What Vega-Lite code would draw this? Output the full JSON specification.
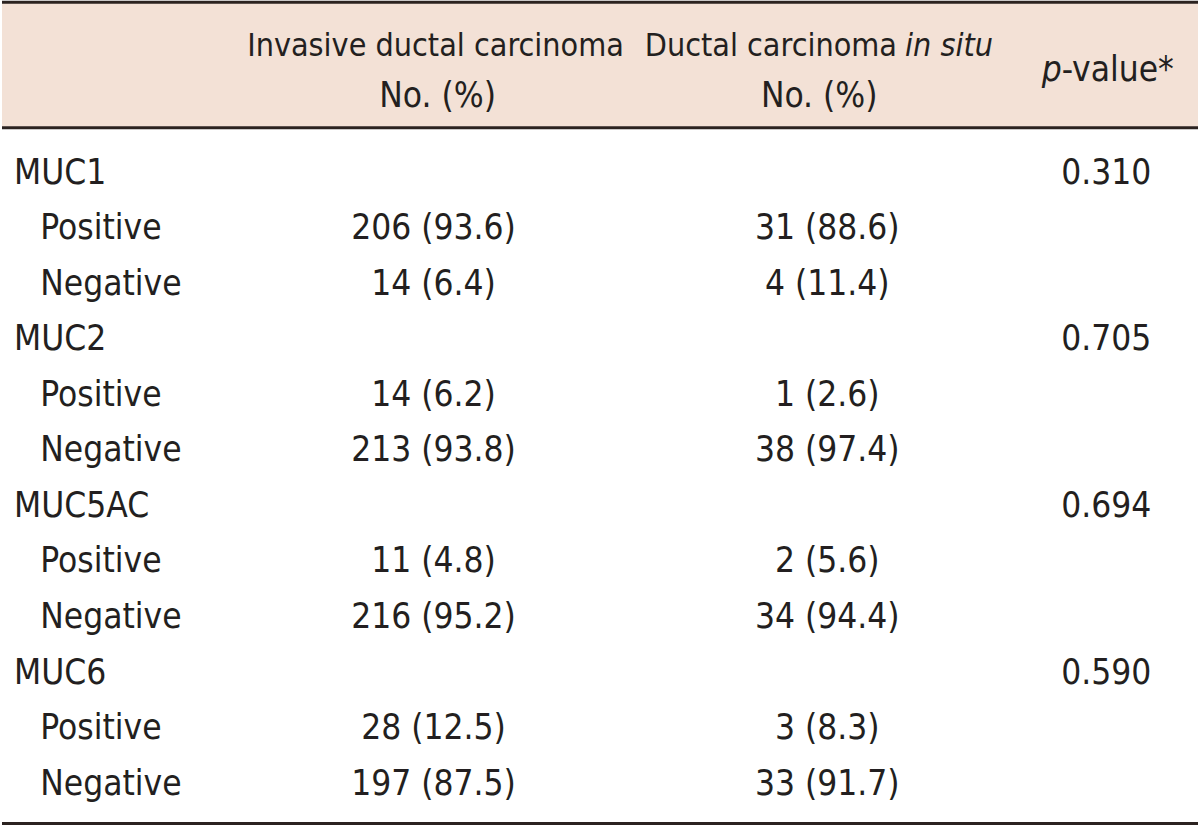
{
  "$schema": "https://vega.github.io/schema/vega-lite/v6.json",
  "width": 1200,
  "height": 825,
  "autosize": {"type": "fit", "contains": "padding"},
  "padding": 0,
  "background": "#ffffff",
  "config": {
    "view": {"stroke": null},
    "text": {"font": "DejaVu Sans Condensed, Roboto, sans-serif", "fontSize": 35, "fill": "#231f20", "baseline": "alphabetic"}
  },
  "data": {
    "values": [
      {"row": 1, "label": "MUC1", "kind": "group", "p": "0.310"},
      {"row": 2, "label": "Positive", "kind": "sub", "idc": "206 (93.6)", "dcis": "31 (88.6)"},
      {"row": 3, "label": "Negative", "kind": "sub", "idc": "14 (6.4)", "dcis": "4 (11.4)"},
      {"row": 4, "label": "MUC2", "kind": "group", "p": "0.705"},
      {"row": 5, "label": "Positive", "kind": "sub", "idc": "14 (6.2)", "dcis": "1 (2.6)"},
      {"row": 6, "label": "Negative", "kind": "sub", "idc": "213 (93.8)", "dcis": "38 (97.4)"},
      {"row": 7, "label": "MUC5AC", "kind": "group", "p": "0.694"},
      {"row": 8, "label": "Positive", "kind": "sub", "idc": "11 (4.8)", "dcis": "2 (5.6)"},
      {"row": 9, "label": "Negative", "kind": "sub", "idc": "216 (95.2)", "dcis": "34 (94.4)"},
      {"row": 10, "label": "MUC6", "kind": "group", "p": "0.590"},
      {"row": 11, "label": "Positive", "kind": "sub", "idc": "28 (12.5)", "dcis": "3 (8.3)"},
      {"row": 12, "label": "Negative", "kind": "sub", "idc": "197 (87.5)", "dcis": "33 (91.7)"}
    ]
  },
  "layer": [
    {
      "data": {"values": [{}]},
      "mark": {"type": "rect", "fill": "#f3e1d6"},
      "encoding": {
        "x": {"datum": 0, "type": "quantitative", "scale": {"domain": [0, 100], "nice": false, "zero": false}, "axis": null},
        "x2": {"datum": 100},
        "y": {"datum": -2.291, "type": "quantitative", "scale": {"domain": [-2.291, 12.547], "reverse": true, "nice": false, "zero": false}, "axis": null},
        "y2": {"datum": -0.025}
      }
    },
    {
      "data": {"values": [{"pos": -2.27}, {"pos": -0.007}, {"pos": 12.52}]},
      "mark": {"type": "rule", "stroke": "#2b2220", "strokeWidth": 3},
      "encoding": {
        "x": {"datum": 0, "type": "quantitative", "scale": {"domain": [0, 100], "nice": false, "zero": false}, "axis": null},
        "x2": {"datum": 100},
        "y": {"field": "pos", "type": "quantitative", "scale": {"domain": [-2.291, 12.547], "reverse": true, "nice": false, "zero": false}, "axis": null}
      }
    },
    {
      "data": {"values": [{"t": "Invasive ductal carcinoma"}]},
      "mark": {"type": "text", "align": "center", "fontSize": 32},
      "encoding": {
        "x": {"datum": 36.25, "type": "quantitative"},
        "y": {"datum": -1.302, "type": "quantitative"},
        "text": {"field": "t"}
      }
    },
    {
      "data": {"values": [{"t": "No. (%)"}]},
      "mark": {"type": "text", "align": "center"},
      "encoding": {
        "x": {"datum": 36.42, "type": "quantitative"},
        "y": {"datum": -0.385, "type": "quantitative"},
        "text": {"field": "t"}
      }
    },
    {
      "data": {"values": [{"t": "Ductal carcinoma"}]},
      "mark": {"type": "text", "align": "right", "dx": -2, "fontSize": 32},
      "encoding": {
        "x": {"datum": 75, "type": "quantitative"},
        "y": {"datum": -1.302, "type": "quantitative"},
        "text": {"field": "t"}
      }
    },
    {
      "data": {"values": [{"t": "in situ"}]},
      "mark": {"type": "text", "align": "left", "dx": 6, "fontStyle": "italic", "fontSize": 32},
      "encoding": {
        "x": {"datum": 75, "type": "quantitative"},
        "y": {"datum": -1.302, "type": "quantitative"},
        "text": {"field": "t"}
      }
    },
    {
      "data": {"values": [{"t": "No. (%)"}]},
      "mark": {"type": "text", "align": "center"},
      "encoding": {
        "x": {"datum": 68.33, "type": "quantitative"},
        "y": {"datum": -0.385, "type": "quantitative"},
        "text": {"field": "t"}
      }
    },
    {
      "data": {"values": [{"t": "p"}]},
      "mark": {"type": "text", "align": "right", "fontStyle": "italic"},
      "encoding": {
        "x": {"datum": 88.6, "type": "quantitative"},
        "y": {"datum": -0.853, "type": "quantitative"},
        "text": {"field": "t"}
      }
    },
    {
      "data": {"values": [{"t": "-value*"}]},
      "mark": {"type": "text", "align": "left"},
      "encoding": {
        "x": {"datum": 88.6, "type": "quantitative"},
        "y": {"datum": -0.853, "type": "quantitative"},
        "text": {"field": "t"}
      }
    },
    {
      "transform": [{"filter": "datum.kind === 'group'"}],
      "mark": {"type": "text", "align": "left"},
      "encoding": {
        "x": {"datum": 1.0, "type": "quantitative"},
        "y": {"field": "row", "type": "quantitative"},
        "text": {"field": "label"}
      }
    },
    {
      "transform": [{"filter": "datum.kind === 'sub'"}],
      "mark": {"type": "text", "align": "left"},
      "encoding": {
        "x": {"datum": 3.2, "type": "quantitative"},
        "y": {"field": "row", "type": "quantitative"},
        "text": {"field": "label"}
      }
    },
    {
      "transform": [{"filter": "datum.kind === 'sub'"}],
      "mark": {"type": "text", "align": "center"},
      "encoding": {
        "x": {"datum": 36.08, "type": "quantitative"},
        "y": {"field": "row", "type": "quantitative"},
        "text": {"field": "idc"}
      }
    },
    {
      "transform": [{"filter": "datum.kind === 'sub'"}],
      "mark": {"type": "text", "align": "center"},
      "encoding": {
        "x": {"datum": 69.0, "type": "quantitative"},
        "y": {"field": "row", "type": "quantitative"},
        "text": {"field": "dcis"}
      }
    },
    {
      "transform": [{"filter": "datum.kind === 'group'"}],
      "mark": {"type": "text", "align": "center"},
      "encoding": {
        "x": {"datum": 92.33, "type": "quantitative"},
        "y": {"field": "row", "type": "quantitative"},
        "text": {"field": "p"}
      }
    }
  ]
}
